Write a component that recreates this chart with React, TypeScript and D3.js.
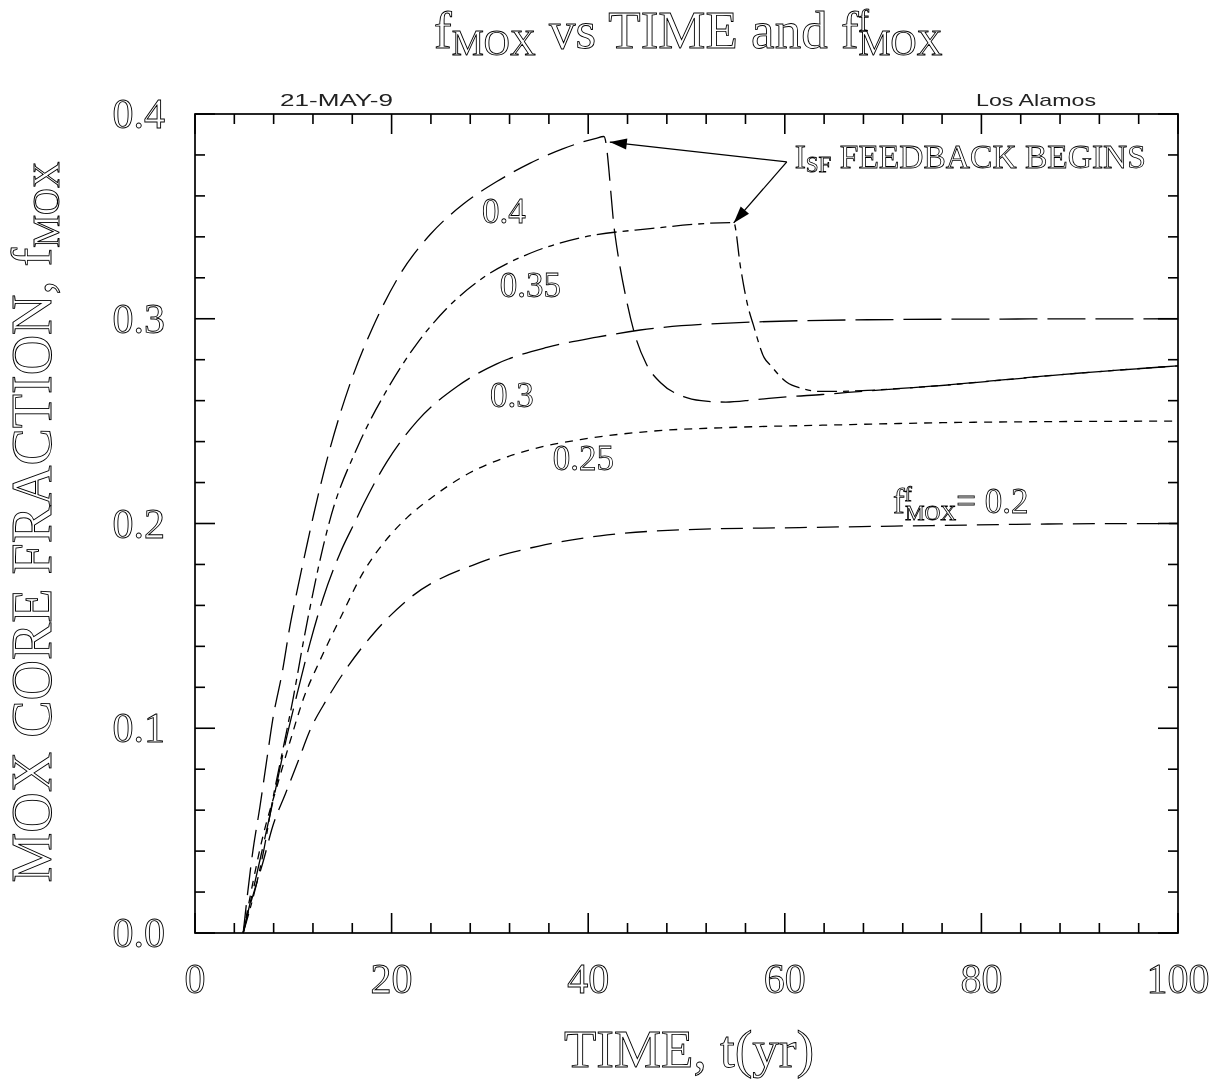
import React from "react";
import * as d3 from "d3";

// ---- data ----
const t20 = [4.9, 5.3, 7.0, 7.9, 9.2, 10.5, 11.7, 13.4, 15.1, 18.3, 21.7, 29.0, 35, 41.2, 50, 61.5, 75, 88, 100];
const f20 = [0, 0.008, 0.036, 0.052, 0.068, 0.084, 0.099, 0.114, 0.127, 0.147, 0.163, 0.181, 0.189, 0.194, 0.197, 0.198, 0.199, 0.1998, 0.2];

const t25 = [4.9, 7.0, 8.3, 9.7, 11.0, 12.7, 14.8, 17.1, 19.8, 21.6, 23.9, 27.3, 34.1, 39.2, 46.3, 55, 63.8, 80, 100];
const f25 = [0, 0.049, 0.071, 0.094, 0.114, 0.133, 0.154, 0.176, 0.194, 0.203, 0.212, 0.223, 0.236, 0.241, 0.245, 0.247, 0.248, 0.2495, 0.25];

const t30 = [4.9, 7.0, 8.1, 9.2, 10.4, 11.7, 13.0, 14.8, 16.3, 17.1, 19.5, 22.6, 26.7, 30.7, 35.8, 40.9, 45.3, 54.8, 68.4, 85, 100];
const f30 = [0, 0.044, 0.068, 0.093, 0.117, 0.1416, 0.163, 0.186, 0.201, 0.209, 0.23, 0.25, 0.267, 0.278, 0.286, 0.291, 0.2945, 0.298, 0.2995, 0.2999, 0.3];

const t35 = [4.9, 7.0, 7.9, 9.0, 10.0, 11.0, 12.0, 13.0, 13.8, 16.5, 19.5, 22.6, 25.6, 29.3, 34.1, 39.2, 46.3, 54.8,
  55.5, 56.2, 56.8, 57.9, 58.6, 59.4, 60.2, 61.7, 63.5, 65.3, 68.4, 74, 90.1, 100];
const f35 = [0, 0.0405, 0.065, 0.091, 0.115, 0.1416, 0.166, 0.188, 0.203, 0.237, 0.265, 0.288, 0.305, 0.32, 0.332, 0.3395, 0.344, 0.347,
  0.325, 0.307, 0.297, 0.281, 0.277, 0.2725, 0.269, 0.266, 0.2645, 0.2645, 0.265, 0.2667, 0.2735, 0.277];

const t40 = [4.9, 5.9, 6.6, 7.3, 7.9, 8.9, 9.7, 10.4, 11.5, 12.1, 13.7, 15.8, 18.1, 20.9, 23.9, 27.3, 30.7, 34.1, 37.4, 40.7,
  41.6, 42.7, 43.9, 44.7, 45.9, 47.4, 49.7, 51.5, 54.0, 57, 60.6, 63.8, 66.4, 74, 90.1, 100];
const f40 = [0, 0.0405, 0.0615, 0.0845, 0.104, 0.128, 0.151, 0.1675, 0.192, 0.205, 0.236, 0.2686, 0.296, 0.322, 0.341, 0.356, 0.367, 0.376, 0.383, 0.388,
  0.389, 0.342, 0.309, 0.293, 0.278, 0.2686, 0.262, 0.26, 0.2593, 0.2605, 0.262, 0.263, 0.264, 0.2667, 0.2735, 0.277];

const xMajorTicks = [0, 20, 40, 60, 80, 100];
const xTickLabels = ["0", "20", "40", "60", "80", "100"];
const yMajorTicks = [0, 0.1, 0.2, 0.3, 0.4];
const yTickLabels = ["0.0", "0.1", "0.2", "0.3", "0.4"];

// curve label anchors (data coords)
const curveLabels = [
  { text: "0.4", t: 29.2, f: 0.3468 },
  { text: "0.35", t: 31.0, f: 0.3106 },
  { text: "0.3", t: 30.0, f: 0.2569 },
  { text: "0.25", t: 36.4, f: 0.2261 },
];
const ffLabel = { t: 71.0, f: 0.2051 };
const arrowFrom = { t: 60.2, f: 0.3766 };
const arrowTips = [
  { t: 42.2, f: 0.3863 },
  { t: 54.8, f: 0.3468 },
];
const feedbackText = { t: 61.0, f: 0.3736 };

const SERIF = "'Liberation Serif', 'DejaVu Serif', serif";
const SANS = "'Liberation Sans', 'DejaVu Sans', sans-serif";

export default function App() {
  const x = d3.scaleLinear().domain([0, 100]).range([195, 1178]);
  const y = d3.scaleLinear().domain([0, 0.4]).range([933, 114]);
  const line = d3
    .line<[number, number]>()
    .x((d) => x(d[0]))
    .y((d) => y(d[1]))
    .curve(d3.curveMonotoneX);

  const series = [
    { t: t20, f: f20, dash: "22,10" },
    { t: t25, f: f25, dash: "8,7" },
    { t: t30, f: f30, dash: "38,10" },
    { t: t35, f: f35, dash: "20,6,6,6" },
    { t: t40, f: f40, dash: "28,10" },
  ];

  const xMinor = d3.range(0, 101, 4);
  const yMinor = d3.range(0, 0.4001, 0.02);
  const [x0, x1] = x.range();
  const [y0, y1] = y.range();

  const hollow = { fill: "none", stroke: "#000", strokeWidth: 0.9 } as const;

  const arrowHead = (fx: number, fy: number, tx: number, ty: number) => {
    const ang = Math.atan2(ty - fy, tx - fx);
    const L = 17, Wd = 5.5;
    const bx = tx - L * Math.cos(ang), by = ty - L * Math.sin(ang);
    const px = -Math.sin(ang) * Wd, py = Math.cos(ang) * Wd;
    return `M${tx},${ty}L${bx + px},${by + py}L${bx - px},${by - py}Z`;
  };

  return (
    <svg width={1220} height={1080} style={{ position: "absolute", left: 0, top: 0, background: "#fff" }}>
      <defs>
        <filter id="gray" x={0} y={0} width={1220} height={1080} filterUnits="userSpaceOnUse">
          <feColorMatrix type="saturate" values="0" />
        </filter>
      </defs>
      <rect x={0} y={0} width={1220} height={1080} fill="#fff" />
      {/* frame */}
      <rect x={x0} y={y1} width={x1 - x0} height={y0 - y1} fill="none" stroke="#000" strokeWidth={1.7} />
      {/* ticks */}
      {xMinor.map((v) => {
        const major = xMajorTicks.includes(v);
        const len = major ? 20 : 10;
        return (
          <g key={"xt" + v}>
            <line x1={x(v)} x2={x(v)} y1={y0} y2={y0 - len} stroke="#000" strokeWidth={1.6} />
            <line x1={x(v)} x2={x(v)} y1={y1} y2={y1 + len} stroke="#000" strokeWidth={1.6} />
          </g>
        );
      })}
      {yMinor.map((v, i) => {
        const major = i % 5 === 0;
        const len = major ? 20 : 10;
        return (
          <g key={"yt" + i}>
            <line x1={x0} x2={x0 + len} y1={y(v)} y2={y(v)} stroke="#000" strokeWidth={1.6} />
            <line x1={x1} x2={x1 - len} y1={y(v)} y2={y(v)} stroke="#000" strokeWidth={1.6} />
          </g>
        );
      })}
      {/* curves */}
      {series.map((s, i) => (
        <path
          key={"s" + i}
          d={line(s.t.map((t, j) => [t, s.f[j]] as [number, number])) || ""}
          fill="none"
          stroke="#000"
          strokeWidth={1.3}
          strokeDasharray={s.dash}
        />
      ))}
      {/* annotation arrows */}
      {arrowTips.map((tp, i) => {
        const fx = x(arrowFrom.t), fy = y(arrowFrom.f), tx = x(tp.t), ty = y(tp.f);
        return (
          <g key={"ar" + i}>
            <line x1={fx} y1={fy} x2={tx} y2={ty} stroke="#000" strokeWidth={1.3} />
            <path d={arrowHead(fx, fy, tx, ty)} fill="#000" />
          </g>
        );
      })}
      <g filter="url(#gray)">
        {/* tick labels */}
        {xMajorTicks.map((v, i) => (
          <text key={"xl" + v} x={x(v)} y={993} textAnchor="middle" fontFamily={SERIF} fontSize={42} {...hollow}>
            {xTickLabels[i]}
          </text>
        ))}
        {yMajorTicks.map((v, i) => (
          <text key={"yl" + v} x={165} y={y(v) + 14} textAnchor="end" fontFamily={SERIF} fontSize={42} {...hollow}>
            {yTickLabels[i]}
          </text>
        ))}
        {/* curve labels */}
        {curveLabels.map((l) => (
          <text key={l.text} x={x(l.t)} y={y(l.f)} fontFamily={SERIF} fontSize={35} {...hollow} strokeWidth={0.8}>
            {l.text}
          </text>
        ))}
        <text x={x(ffLabel.t)} y={y(ffLabel.f)} fontFamily={SERIF} fontSize={35} {...hollow} strokeWidth={0.8}>
          f<tspan dy={-12} fontSize={22}>f</tspan>
          <tspan dx={-7} dy={19} fontSize={22}>MOX</tspan>
          <tspan dy={-7} fontSize={35}>= 0.2</tspan>
        </text>
        <text x={x(feedbackText.t)} y={y(feedbackText.f)} fontFamily={SERIF} fontSize={33.5} {...hollow} strokeWidth={0.8}>
          I<tspan dy={4} fontSize={23}>SF</tspan>
          <tspan dy={-4} fontSize={33.5}> FEEDBACK BEGINS</tspan>
        </text>
        {/* title */}
        <text x={434} y={48} fontFamily={SERIF} fontSize={53} {...hollow}>
          f<tspan dy={7} fontSize={36}>MOX</tspan>
          <tspan dy={-7} fontSize={53}> vs TIME and f</tspan>
          <tspan dy={-17} fontSize={31}>f</tspan>
          <tspan dx={-10.3} dy={24} fontSize={36}>MOX</tspan>
        </text>
        {/* corner labels */}
        <text x={280} y={106} fontFamily={SANS} fontSize={17} textLength={113} lengthAdjust="spacingAndGlyphs" fill="#222">
          21-MAY-9
        </text>
        <text x={976} y={106} fontFamily={SANS} fontSize={17} textLength={120} lengthAdjust="spacingAndGlyphs" fill="#222">
          Los Alamos
        </text>
        {/* axis titles */}
        <text x={689} y={1067} textAnchor="middle" fontFamily={SERIF} fontSize={53} {...hollow}>
          TIME, t(yr)
        </text>
        <text transform="translate(51,522) rotate(-90)" textAnchor="middle" fontFamily={SERIF} fontSize={56} {...hollow}>
          MOX CORE FRACTION, f<tspan dy={8} fontSize={37}>MOX</tspan>
        </text>
      </g>
    </svg>
  );
}
